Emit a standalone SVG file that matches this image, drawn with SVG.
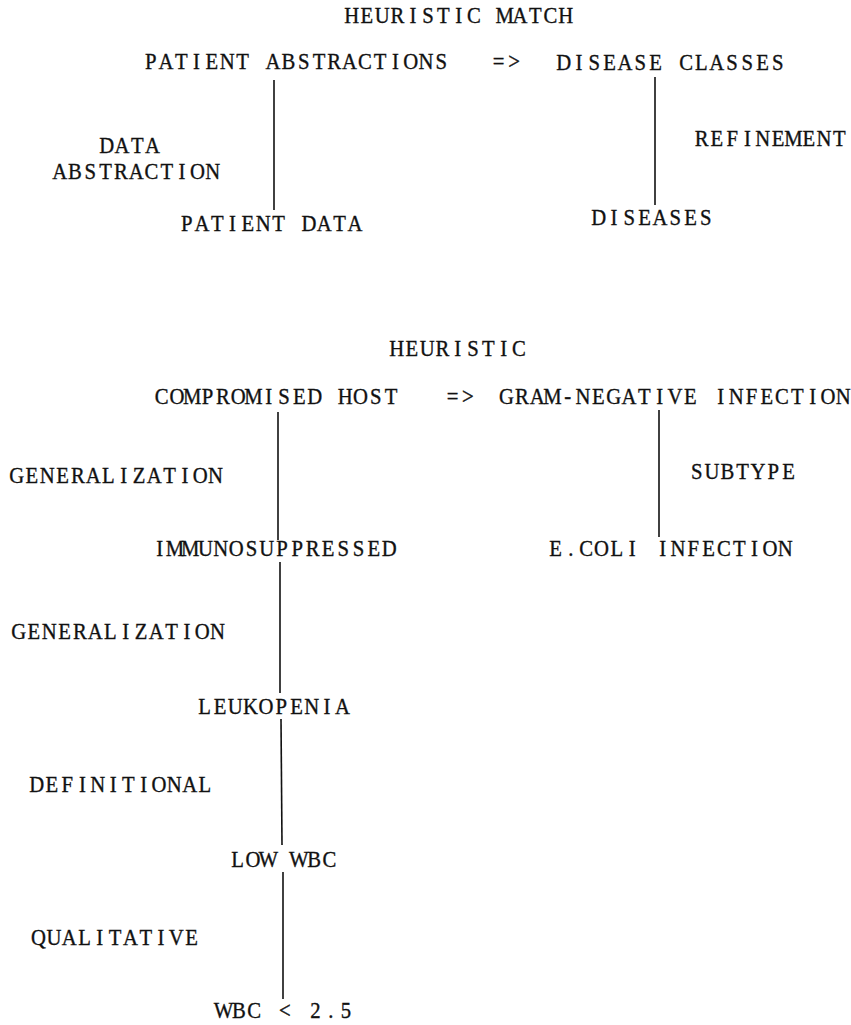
<svg xmlns="http://www.w3.org/2000/svg" width="851" height="1025" viewBox="0 0 851 1025">
<style>
text{font-family:"Liberation Serif","Times New Roman",serif;font-size:23px;text-anchor:middle;fill:#111;stroke:#111;stroke-width:0.35}
.ln{stroke:#111;stroke-width:1.6;fill:none}
</style>
<rect width="851" height="1025" fill="#fff"/>
<g id="connectors">
<line class="ln" x1="274" y1="80" x2="274" y2="210"/>
<line class="ln" x1="655" y1="77" x2="655" y2="205"/>
<line class="ln" x1="278" y1="412" x2="278" y2="540"/>
<line class="ln" x1="659" y1="410" x2="659" y2="537"/>
<line class="ln" x1="280" y1="562" x2="280" y2="693"/>
<line class="ln" x1="281" y1="719" x2="282" y2="845"/>
<line class="ln" x1="283" y1="872" x2="283" y2="999"/>
</g>
<g id="title-heuristic-match" transform="scale(0.9 1)"><text x="390.7 407.7 424.7 441.7 458.7 475.7 492.7 509.7 526.7 543.7 560.7 577.7 594.7 611.7 628.7" y="23">HEURISTIC MATCH</text></g>
<g id="patient-abstractions" transform="scale(0.9 1)"><text x="167.4 184.4 201.4 218.4 235.4 252.4 269.4 286.4 303.4 320.4 337.4 354.4 371.4 388.4 405.4 422.4 439.4 456.4 473.4 490.4" y="69">PATIENT ABSTRACTIONS</text></g>
<g id="arrow-1" transform="scale(0.9 1)"><text x="554.1 571.1" y="69">=&gt;</text></g>
<g id="disease-classes" transform="scale(0.9 1)"><text x="626.3 643.3 660.3 677.3 694.3 711.3 728.3 745.3 762.3 779.3 796.3 813.3 830.3 847.3 864.3" y="70">DISEASE CLASSES</text></g>
<g id="label-data-abstraction" transform="scale(0.9 1)"><text x="118.5 135.5 152.5 169.5" y="153">DATA</text><text x="66.3 83.3 100.3 117.3 134.3 151.3 168.3 185.3 202.3 219.3 236.3" y="179">ABSTRACTION</text></g>
<g id="patient-data" transform="scale(0.9 1)"><text x="207.4 224.4 241.4 258.4 275.4 292.4 309.4 326.4 343.4 360.4 377.4 394.4" y="231">PATIENT DATA</text></g>
<g id="label-refinement" transform="scale(0.9 1)"><text x="779.6 796.6 813.6 830.6 847.6 864.6 881.6 898.6 915.6 932.6" y="146">REFINEMENT</text></g>
<g id="diseases" transform="scale(0.9 1)"><text x="665.2 682.2 699.2 716.2 733.2 750.2 767.2 784.2" y="225">DISEASES</text></g>
<g id="title-heuristic" transform="scale(0.9 1)"><text x="440.7 457.7 474.7 491.7 508.7 525.7 542.7 559.7 576.7" y="356">HEURISTIC</text></g>
<g id="compromised-host" transform="scale(0.9 1)"><text x="179.6 196.6 213.6 230.6 247.6 264.6 281.6 298.6 315.6 332.6 349.6 366.6 383.6 400.6 417.6 434.6" y="404">COMPROMISED HOST</text></g>
<g id="arrow-2" transform="scale(0.9 1)"><text x="502.9 519.9" y="404">=&gt;</text></g>
<g id="gram-negative-infection" transform="scale(0.9 1)"><text x="562.9 579.9 596.9 613.9 630.9 647.9 664.9 681.9 698.9 715.9 732.9 749.9 766.9 783.9 800.9 817.9 834.9 851.9 868.9 885.9 902.9 919.9 936.9" y="404">GRAM-NEGATIVE INFECTION</text></g>
<g id="label-generalization-1" transform="scale(0.9 1)"><text x="18.5 35.5 52.5 69.5 86.5 103.5 120.5 137.5 154.5 171.5 188.5 205.5 222.5 239.5" y="483">GENERALIZATION</text></g>
<g id="label-subtype" transform="scale(0.9 1)"><text x="774.1 791.1 808.1 825.1 842.1 859.1 876.1" y="479">SUBTYPE</text></g>
<g id="immunosuppressed" transform="scale(0.9 1)"><text x="177.4 194.4 211.4 228.4 245.4 262.4 279.4 296.4 313.4 330.4 347.4 364.4 381.4 398.4 415.4 432.4" y="556">IMMUNOSUPPRESSED</text></g>
<g id="ecoli-infection" transform="scale(0.9 1)"><text x="617.4 634.4 651.4 668.4 685.4 702.4 719.4 736.4 753.4 770.4 787.4 804.4 821.4 838.4 855.4 872.4" y="556">E.COLI INFECTION</text></g>
<g id="label-generalization-2" transform="scale(0.9 1)"><text x="20.7 37.7 54.7 71.7 88.7 105.7 122.7 139.7 156.7 173.7 190.7 207.7 224.7 241.7" y="639">GENERALIZATION</text></g>
<g id="leukopenia" transform="scale(0.9 1)"><text x="227.4 244.4 261.4 278.4 295.4 312.4 329.4 346.4 363.4 380.4" y="714">LEUKOPENIA</text></g>
<g id="label-definitional" transform="scale(0.9 1)"><text x="40.7 57.7 74.7 91.7 108.7 125.7 142.7 159.7 176.7 193.7 210.7 227.7" y="792">DEFINITIONAL</text></g>
<g id="low-wbc" transform="scale(0.9 1)"><text x="264.1 281.1 298.1 315.1 332.1 349.1 366.1" y="867">LOW WBC</text></g>
<g id="label-qualitative" transform="scale(0.9 1)"><text x="42.9 59.9 76.9 93.9 110.9 127.9 144.9 161.9 178.9 195.9 212.9" y="945">QUALITATIVE</text></g>
<g id="wbc-value" transform="scale(0.9 1)"><text x="248.5 265.5 282.5 299.5 316.5 333.5 350.5 367.5 384.5" y="1018">WBC &lt; 2.5</text></g>
</svg>
